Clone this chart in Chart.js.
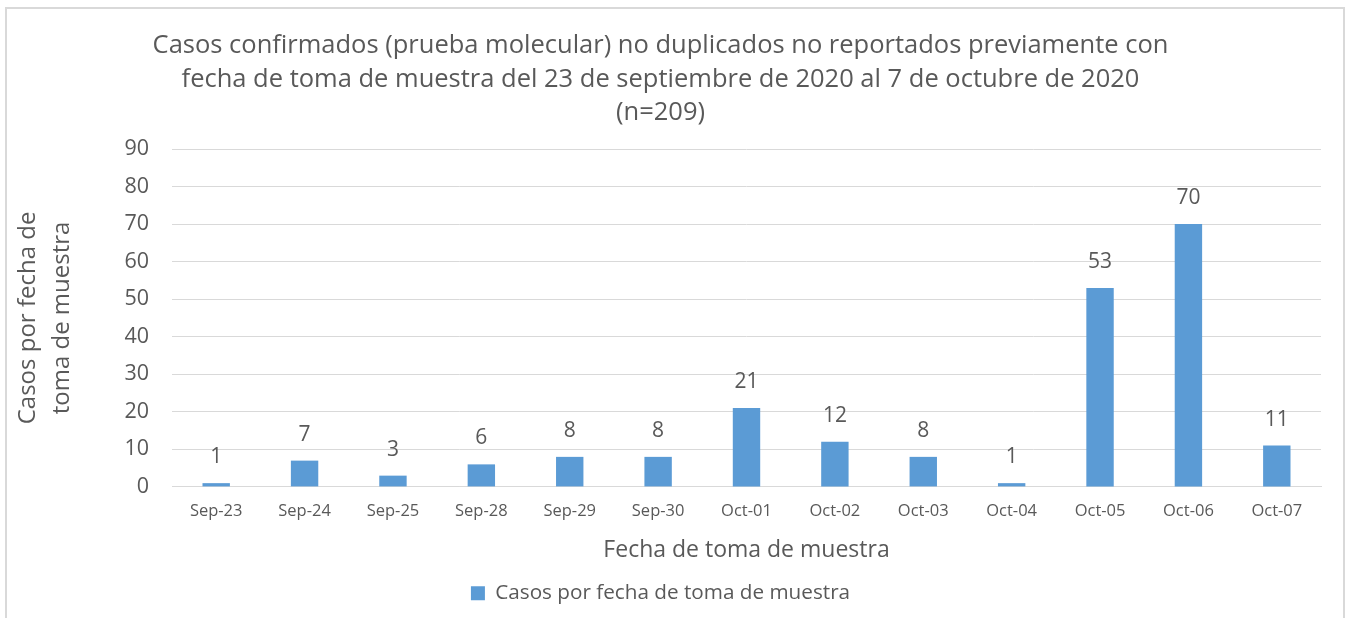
<!DOCTYPE html>
<html>
<head>
<meta charset="utf-8">
<script src="https://cdn.jsdelivr.net/npm/chart.js@4/dist/chart.umd.min.js"></script>
<style>
html,body{margin:0;padding:0;background:#fff;}
#wrap{position:relative;width:1351px;height:618px;overflow:hidden;}
#frame{position:absolute;left:5px;top:7px;width:1340px;height:640px;border:2px solid #D9D9D9;box-sizing:border-box;}
canvas{position:absolute;left:0;top:0;}
</style>
</head>
<body>
<div id="wrap">
<div id="frame"></div>
<canvas id="c" width="1351" height="618"></canvas>
</div>
<script>
const categories = ['Sep-23','Sep-24','Sep-25','Sep-28','Sep-29','Sep-30','Oct-01','Oct-02','Oct-03','Oct-04','Oct-05','Oct-06','Oct-07'];
const casos = [1,7,3,6,8,8,21,12,8,1,53,70,11];
const seriesName = 'Casos por fecha de toma de muestra';
const titleLines = [
  'Casos confirmados (prueba molecular) no duplicados no reportados previamente con',
  'fecha de toma de muestra del 23 de septiembre de 2020 al 7 de octubre de 2020',
  '(n=209)'
];
const yTitleLines = ['Casos por fecha de','toma de muestra'];
const xTitle = 'Fecha de toma de muestra';
const yTicks = {min:0, max:90, step:10};

const FONT = "'Open Sans', sans-serif";
const TXT = '#595959';

const valueLabels = {
  id:'valueLabels',
  afterDatasetsDraw(chart){
    const ctx = chart.ctx;
    const meta = chart.getDatasetMeta(0);
    ctx.save();
    ctx.font = "21px " + FONT;
    ctx.fillStyle = TXT;
    ctx.textAlign = 'center';
    ctx.textBaseline = 'middle';
    meta.data.forEach((bar,i)=>{
      ctx.fillText(String(chart.data.datasets[0].data[i]), bar.x, bar.y - 26);
    });
    ctx.restore();
  }
};

new Chart(document.getElementById('c'), {
  type:'bar',
  data:{
    labels:categories,
    datasets:[{
      label:seriesName,
      data:casos,
      backgroundColor:'#5B9BD5',
      borderWidth:0,
      categoryPercentage:1,
      barPercentage:0.31
    }]
  },
  options:{
    responsive:false,
    animation:false,
    devicePixelRatio:1,
    layout:{padding:{left:0,right:30,top:0,bottom:4.5}},
    plugins:{
      title:{
        display:true,
        text:titleLines,
        color:TXT,
        font:{family:FONT,size:25.5,weight:'normal',lineHeight:1.31},
        padding:{top:29.3,bottom:19.5}
      },
      legend:{
        position:'bottom',
        labels:{
          color:TXT,
          font:{family:FONT,size:20.7},
          boxWidth:14,
          boxHeight:14,
          padding:10
        }
      },
      tooltip:{enabled:false}
    },
    scales:{
      x:{
        grid:{display:false,drawTicks:false},
        border:{display:true,color:'#D9D9D9',width:1},
        ticks:{color:TXT,font:{family:FONT,size:16.5},padding:14,maxRotation:0,autoSkip:false},
        title:{display:true,text:xTitle,color:TXT,font:{family:FONT,size:23},padding:{top:1.5,bottom:9}}
      },
      y:{
        min:yTicks.min,max:yTicks.max,
        grid:{color:'#D9D9D9',lineWidth:1,drawTicks:false},
        border:{display:false},
        ticks:{stepSize:yTicks.step,color:TXT,font:{family:FONT,size:21.5},padding:23},
        title:{display:true,text:yTitleLines,color:TXT,font:{family:FONT,size:24,lineHeight:1.42},padding:{top:11,bottom:0}},
        afterFit(scale){ scale.width = 172; }
      }
    }
  },
  plugins:[valueLabels]
});
</script>
</body>
</html>
